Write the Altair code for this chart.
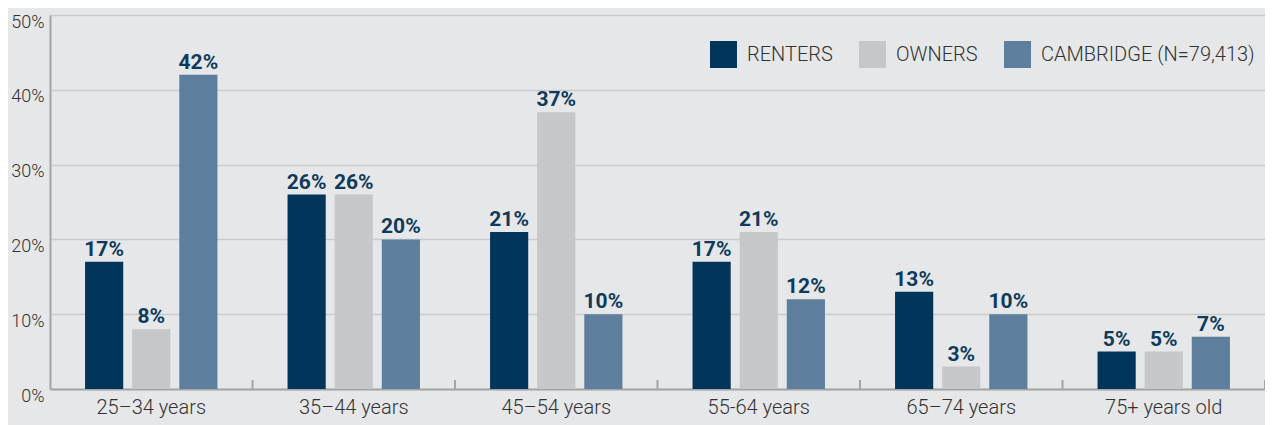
import altair as alt
import pandas as pd

ages = ["25–34 years", "35–44 years", "45–54 years", "55-64 years", "65–74 years", "75+ years old"]
groups = ["RENTERS", "OWNERS", "CAMBRIDGE (N=79,413)"]
renters = [17, 26, 21, 17, 13, 5]
owners = [8, 26, 37, 21, 3, 5]
cambridge = [42, 20, 10, 12, 10, 7]
colors = ["#02355a", "#c6c7c9", "#5e7e9d"]

rows = []
for i, a in enumerate(ages):
    for g, vals in zip(groups, [renters, owners, cambridge]):
        rows.append({"age": a, "group": g, "value": vals[i], "label": f"{vals[i]}%"})
df = pd.DataFrame(rows)
ticks_df = pd.DataFrame({"age": ages})

FONT = "Roboto"
BG = "#e6e7e9"

x_enc = alt.X(
    "age:N", sort=ages, title=None,
    scale=alt.Scale(paddingInner=0, paddingOuter=0),
    axis=alt.Axis(labelAngle=0, labelFontSize=20, labelFont=FONT, labelColor="#333333",
                  labelFontWeight=300,
                  labelPadding=8, ticks=False, domainColor="#a3a4a6", domainWidth=2,
                  grid=False),
)
xoff = alt.XOffset("group:N", sort=groups,
                   scale=alt.Scale(domain=groups, paddingInner=0.19, paddingOuter=0.744))
y_enc = alt.Y(
    "value:Q", title=None,
    scale=alt.Scale(domain=[0, 50], nice=False),
    axis=alt.Axis(values=[0, 10, 20, 30, 40, 50], labelExpr="datum.value + '%'",
                  labelFontSize=18, labelFont=FONT, labelColor="#333333",
                  labelFontWeight=300,
                  labelPadding=6, labelOffset=7, ticks=False,
                  domainColor="#a3a4a6", domainWidth=2,
                  gridColor="#c9cacc", gridWidth=1.5),
)

bars = alt.Chart(df).mark_bar().encode(
    x=x_enc, xOffset=xoff, y=y_enc,
    color=alt.Color("group:N", sort=groups,
                    scale=alt.Scale(domain=groups, range=colors),
                    legend=alt.Legend(title=None, orient="none", legendX=660, legendY=26,
                                      direction="horizontal", symbolType="square",
                                      symbolSize=729, symbolStrokeWidth=0,
                                      labelFontSize=20, labelFont=FONT, labelColor="#333333",
                                      labelFontWeight=300, labelLimit=400,
                                      labelOffset=10, columnPadding=26, padding=0)),
)

labels = alt.Chart(df).mark_text(
    font=FONT, fontSize=21, fontWeight="bold", color="#0e3a5c",
    baseline="alphabetic", dy=-6,
).encode(x=alt.X("age:N", sort=ages), xOffset=xoff, y="value:Q", text="label:N")

tick_marks = alt.Chart(ticks_df).mark_rule(color="#a3a4a6", strokeWidth=2).encode(
    x=alt.X("age:N", sort=ages, bandPosition=1),
    y=alt.datum(0), y2=alt.datum(1.2),
)

chart = alt.layer(bars, tick_marks, labels).properties(
    width=1215, height=374,
    autosize=alt.AutoSizeParams(type="none"),
    padding={"left": 42, "top": 7, "right": 0, "bottom": 36},
    background=BG,
).configure_view(stroke=None)

chart.save("out.html", embed_options={"renderer": "svg", "actions": False})
